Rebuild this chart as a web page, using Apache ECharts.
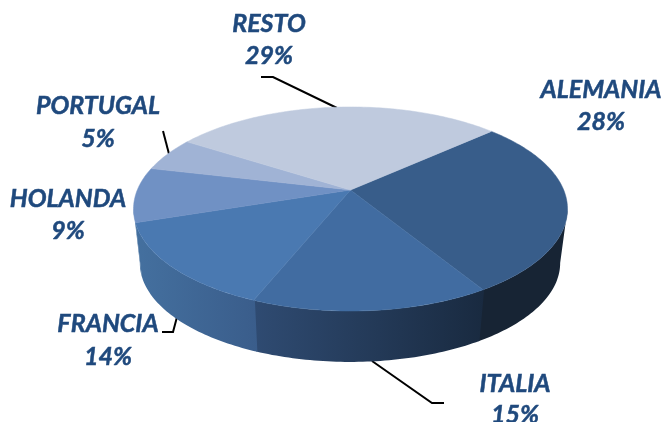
<!DOCTYPE html>
<html><head><meta charset="utf-8">
<style>html,body{margin:0;padding:0;background:#fff}#c{width:661px;height:422px}</style>
<script src="https://cdn.jsdelivr.net/npm/echarts@6/dist/echarts.min.js"></script>
</head><body><div id="c"></div>
<script>
const categories = ['ALEMANIA','ITALIA','FRANCIA','HOLANDA','PORTUGAL','RESTO'];
const shares = [27.9,14.9,13.8,8.7,5.4,29.3];
const topColors = ['#385d8a','#416ca1','#4a79b1','#7091c4','#a0b3d5','#bfcade'];
const wallFrom = ['#172434','#2f4b72','#44709f','#44709f','#44709f','#44709f'];
const wallTo   = ['#172434','#192a40','#3a5d8b','#44709f','#44709f','#44709f'];
const labelSpots = [[601,90,122],[515,384,415],[108,324,357],[68,199,231],[98,106,139],[269,24,56]];
const leaders = [
  [[261,77],[273,77],[337,108]],
  [[372,361],[432,403],[444,403]],
  [[162,332],[173,332],[177,317]],
  [[163,131],[169,154]]
];

const START = 42, K = 0.186, EDGE = 10.7;
const TOP = {cx:350.5, cy:190, rx:213.2, ry:98.5};
const BOT = {cx:350, cy:244.6, rx:206.5, ry:95.5};
const total = shares.reduce((a,b)=>a+b,0);
function pt(e, deg){
  const t = deg*Math.PI/180, s = 1/(1+K*Math.sin(t));
  return [e.cx + e.rx*Math.cos(t)*s, e.cy - e.ry*Math.sin(t)*s];
}
function arc(e, a, b){
  const out = [], n = Math.max(2, Math.ceil(Math.abs(a-b)));
  for(let i=0;i<=n;i++) out.push(pt(e, a+(b-a)*i/n));
  return out;
}
function range(i){
  let acc = 0;
  for(let j=0;j<i;j++) acc += shares[j];
  const a = START - acc/total*360;
  return [a, a - shares[i]/total*360];
}
const dataRows = categories.map((n,i)=>({name:n, value:shares[i]}));

const texts = [];
categories.forEach((n,i)=>{
  const [x,y1,y2] = labelSpots[i];
  [[n,y1],[Math.round(shares[i])+'%',y2]].forEach(([t,y])=>texts.push({
    type:'text', x:x, y:y, silent:true,
    style:{text:t, x:0, y:0, align:'center', verticalAlign:'middle', fill:'#1f497d',
      stroke:'#1f497d', lineWidth:0.5,
      font:'italic bold 25px Lato, Carlito, "Liberation Sans", sans-serif'}
  }));
});
const lines = leaders.map(p=>({type:'polyline', silent:true, shape:{points:p},
  style:{stroke:'#000', lineWidth:2, fill:null}}));

const chart = echarts.init(document.getElementById('c'), null, {renderer:'canvas'});
chart.setOption({
  animation:false,
  backgroundColor:'#fff',
  graphic:{elements:lines.concat(texts)},
  series:[
    {type:'custom', coordinateSystem:'none', data:dataRows, z:1, silent:true,
      renderItem(params){
        const i = params.dataIndex;
        let [a,b] = range(i);
        a = Math.min(a + 0.3, -EDGE); b = Math.max(b, -180 + EDGE);
        if(a <= b) return {type:'group', children:[]};
        const pts = arc(TOP,a,b).concat(arc(BOT,b,a));
        const fill = new echarts.graphic.LinearGradient(0,0,1,0,[
          {offset:0,color:wallFrom[i]},{offset:1,color:wallTo[i]}]);
        return {type:'polygon', shape:{points:pts}, style:{fill:fill}};
      }},
    {type:'custom', coordinateSystem:'none', data:dataRows, z:2, silent:true,
      renderItem(params){
        const i = params.dataIndex;
        const [a,b] = range(i);
        const pts = [[TOP.cx,TOP.cy]].concat(arc(TOP,a,b));
        return {type:'polygon', shape:{points:pts}, style:{fill:topColors[i], stroke:topColors[i], lineWidth:0.5}};
      }}
  ]
});
</script></body></html>
